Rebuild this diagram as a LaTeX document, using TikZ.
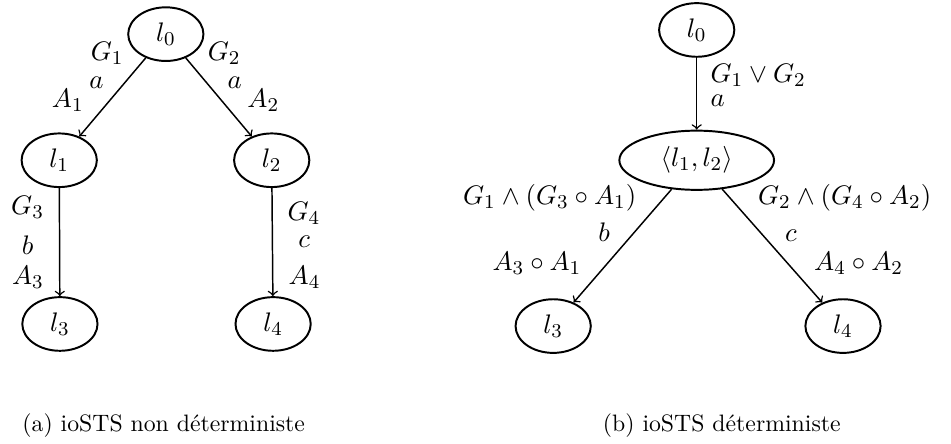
\documentclass[tikz,border=0pt]{standalone}
\usepackage{tikz}
\usetikzlibrary{shapes.geometric}

\begin{document}
\begin{tikzpicture}[
    font=\fontsize{11.4}{13.7}\selectfont,
    state/.style={draw, thick, ellipse, inner sep=0pt, minimum width=1.08cm, minimum height=0.77cm},
    trans/.style={->, semithick},
    caption/.style={font=\fontsize{9.7}{11.6}\selectfont}
  ]

    \useasboundingbox (0,0) rectangle (13.65,-6.37);

    % (a) non deterministic
    \node[state] (l0) at (2.38,-0.49) {$l_0$};
    \node[state] (l1) at (0.85,-2.30) {$l_1$};
    \node[state] (l2) at (3.90,-2.30) {$l_2$};
    \node[state] (l3) at (0.86,-4.65) {$l_3$};
    \node[state] (l4) at (3.92,-4.65) {$l_4$};

    \draw[trans] (l0) -- node[pos=0.2, above left] {$G_1$}
        node[pos=0.5, above left] {$a$} node[pos=0.8, above left] {$A_1$} (l1);
    \draw[trans] (l0) -- node[pos=0.2, above right] {$G_2$}
        node[pos=0.5, above right] {$a$} node[pos=0.8, above right] {$A_2$} (l2);
    \draw[trans] (l1) -- node[pos=0.18, xshift=-13pt] {$G_3$}
        node[pos=0.53, xshift=-13pt] {$b$} node[pos=0.83, xshift=-13pt] {$A_3$} (l3);
    \draw[trans] (l2) -- node[pos=0.23, xshift=13pt] {$G_4$}
        node[pos=0.5, xshift=13pt] {$c$} node[pos=0.83, xshift=13pt] {$A_4$} (l4);

    % (b) deterministic
    \node[state] (d0) at (10.00,-0.43) {$l_0$};
    \node[state, minimum width=2.22cm, minimum height=0.85cm] (d12) at (10.00,-2.30) {$\langle l_1, l_2\rangle$};
    \node[state] (d3) at (7.94,-4.68) {$l_3$};
    \node[state] (d4) at (12.10,-4.68) {$l_4$};

    \draw[trans] (d0) -- node[pos=0.25, right=2pt] {$G_1 \vee G_2$}
        node[pos=0.6, right=2pt] {$a$} (d12);
    \draw[trans] (d12) -- node[pos=0.27, above left] {$G_1 \wedge (G_3 \circ A_1)$}
        node[pos=0.54, above left] {$b$} node[pos=0.83, above left] {$A_3 \circ A_1$} (d3);
    \draw[trans] (d12) -- node[pos=0.27, above right] {$G_2 \wedge (G_4 \circ A_2)$}
        node[pos=0.54, above right] {$c$} node[pos=0.83, above right] {$A_4 \circ A_2$} (d4);

    \node[caption] (capa) at (2.35,-6.11) {(a) ioSTS non déterministe};
    \node[caption] (capb) at (10.36,-6.11) {(b) ioSTS déterministe};
\end{tikzpicture}
\end{document}
